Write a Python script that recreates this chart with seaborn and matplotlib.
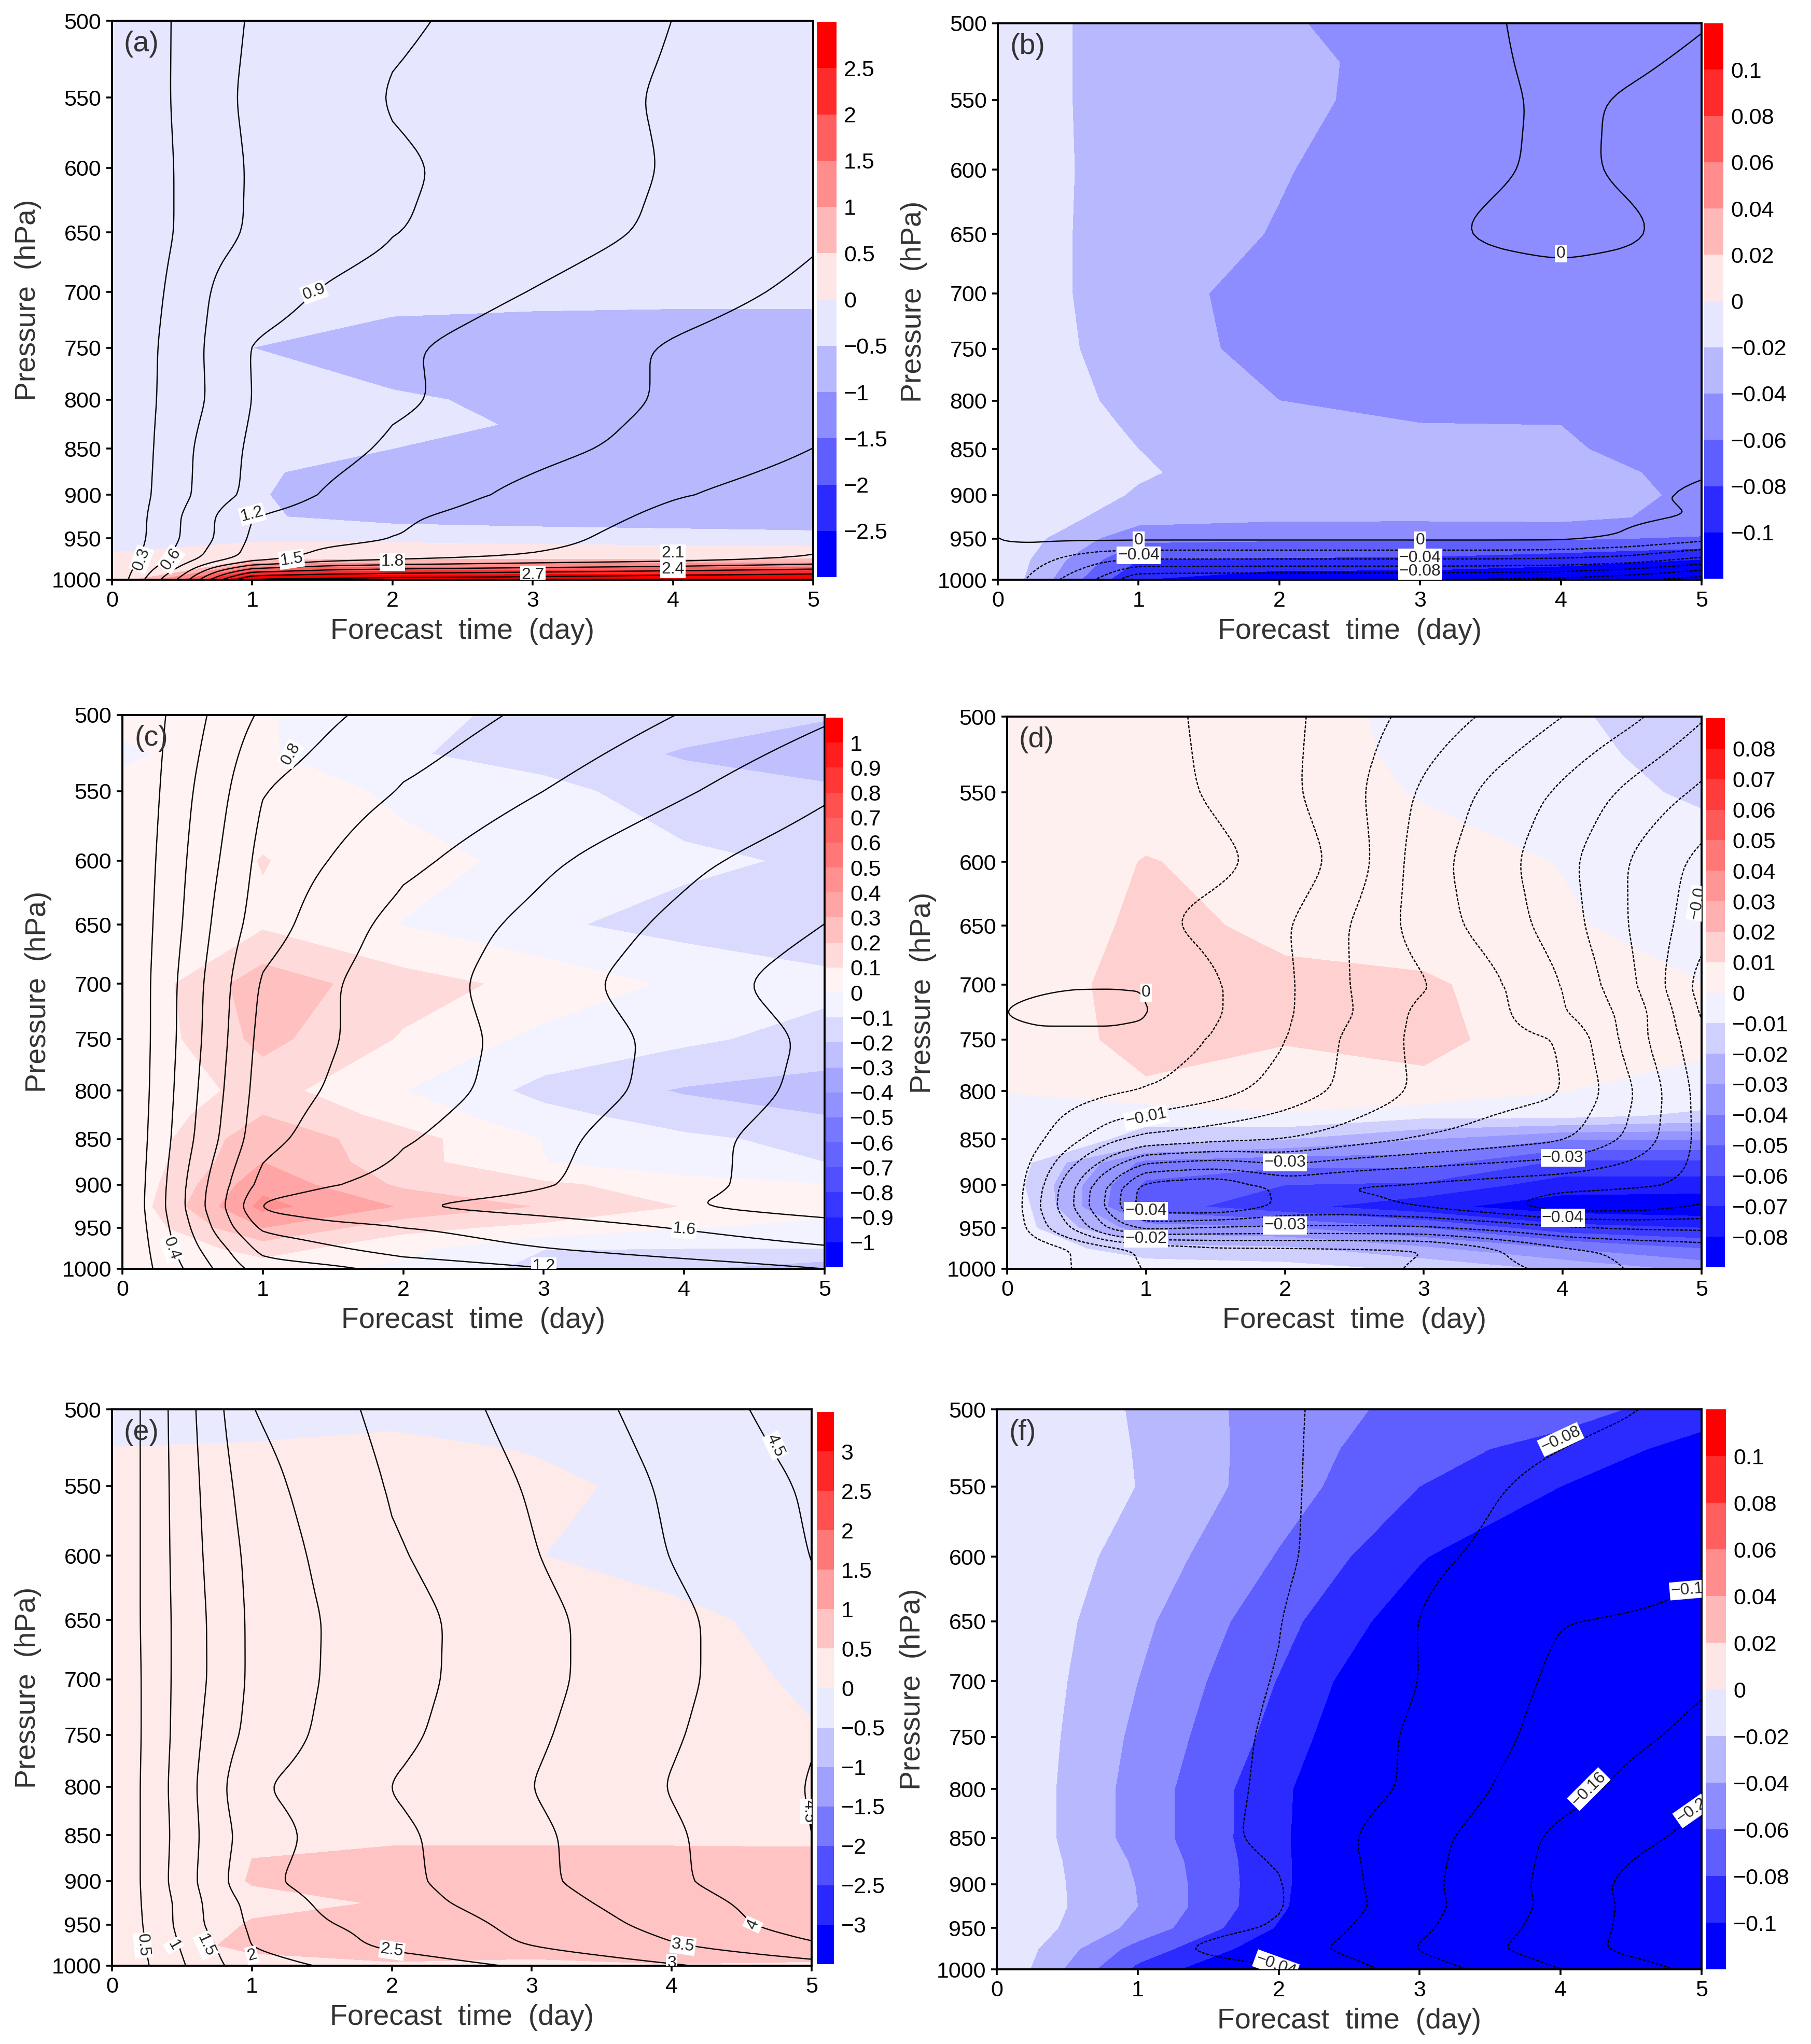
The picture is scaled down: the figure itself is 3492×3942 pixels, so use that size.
import numpy as np
import matplotlib
matplotlib.use("Agg")
import matplotlib.pyplot as plt
from matplotlib.cm import ScalarMappable
from matplotlib.colors import BoundaryNorm, ListedColormap
import seaborn as sns

sns.set_theme(style="ticks")
plt.rcParams["font.family"] = ["Liberation Sans", "DejaVu Sans"]
plt.rcParams["contour.negative_linestyle"] = "dashed"
plt.rcParams["lines.dashed_pattern"] = (2.4, 1.2)

# ---------------- axes values ----------------
DAYS = [0, 1, 2, 3, 4, 5]
PRESSURE_TICKS = [500, 550, 600, 650, 700, 750, 800, 850, 900, 950, 1000]
SHADE_P = [500, 525, 550, 600, 650, 700, 750, 800, 825, 850, 875, 900, 925, 950, 975, 1000]
LINE_P = [500, 550, 600, 650, 700, 750, 800, 850, 900, 925, 950, 975, 1000]
LINE_P_D = [500, 550, 600, 650, 700, 725, 750, 800, 850, 900, 925, 950, 975, 1000]

# ---------------- shaded fields (rows SHADE_P, columns DAYS) ----------------
SHADE_A = [
    [-.02, -.25, -.3, -.3, -.35, -.35], [-.02, -.25, -.3, -.3, -.35, -.35],
    [-.02, -.25, -.3, -.3, -.35, -.35], [-.02, -.25, -.3, -.3, -.35, -.35],
    [-.02, -.3, -.35, -.35, -.4, -.4], [-.02, -.35, -.44, -.45, -.45, -.45],
    [-.02, -.5, -.58, -.6, -.62, -.62], [-.02, -.4, -.48, -.53, -.6, -.65],
    [-.02, -.35, -.44, -.52, -.6, -.65], [-.02, -.4, -.5, -.6, -.7, -.7],
    [-.02, -.47, -.6, -.65, -.7, -.7], [-.02, -.45, -.85, -.85, -.85, -.85],
    [-.02, -.44, -.68, -.75, -.8, -.85], [-.02, -.1, -.12, -.2, -.25, -.3],
    [.01, .45, .5, .5, .5, .52], [.01, 3.1, 3.15, 3.2, 3.2, 3.2],
]
SHADE_B = [
    [-.002, -.036, -.039, -.044, -.05, -.055], [-.002, -.036, -.037, -.044, -.05, -.055],
    [-.002, -.036, -.038, -.043, -.05, -.055], [-.002, -.035, -.0395, -.044, -.05, -.055],
    [-.002, -.036, -.0405, -.046, -.05, -.055], [-.002, -.036, -.044, -.047, -.05, -.055],
    [-.002, -.033, -.045, -.047, -.05, -.055], [-.002, -.027, -.04, -.045, -.047, -.055],
    [-.002, -.023, -.033, -.0395, -.04, -.05], [-.002, -.02, -.03, -.034, -.038, -.048],
    [-.002, -.018, -.03, -.032, -.036, -.043], [-.002, -.022, -.03, -.032, -.035, -.042],
    [-.002, -.031, -.036, -.036, -.035, -.045], [-.002, -.055, -.057, -.058, -.058, -.062],
    [-.002, -.08, -.082, -.083, -.09, -.1], [-.002, -.1, -.115, -.115, -.12, -.125],
]
SHADE_C = [
    [.005, .01, -.08, -.12, -.15, -.19], [-.003, .012, -.09, -.14, -.21, -.26],
    [.005, .06, -.02, -.07, -.15, -.18], [.005, .104, .03, -.025, -.08, -.115],
    [.005, .085, -.003, -.085, -.135, -.17], [.005, .26, .14, .07, -.02, -.07],
    [.005, .23, .09, -.03, -.08, -.14], [.005, .14, .003, -.13, -.21, -.24],
    [.005, .2, .06, -.07, -.15, -.2], [.005, .27, .14, -.003, -.08, -.13],
    [.005, .3, .14, .002, -.07, -.1], [.005, .37, .18, .12, .05, .003],
    [.01, .43, .29, .19, .095, .04], [.005, .3, .13, .07, .005, -.03],
    [.005, .14, .03, -.098, -.1, -.1], [.005, .05, -.025, -.13, -.19, -.26],
]
SHADE_D = [
    [.002, .004, .003, -.002, -.008, -.017], [.002, .004, .003, -.0015, -.007, -.014],
    [.002, .005, .004, -.0006, -.006, -.0115], [.002, .0105, .006, .003, -.0003, -.005],
    [.003, .012, .0085, .005, .001, -.004], [.003, .0145, .0115, .0115, .004, .0002],
    [.003, .0135, .0105, .0115, .007, .002], [.0002, .0085, .006, .0085, .0002, -.0035],
    [-.002, -.0075, -.001, -.0075, -.007, -.012], [-.002, -.013, -.02, -.03, -.04, -.04],
    [-.003, -.043, -.047, -.046, -.062, -.062], [-.004, -.052, -.06, -.062, -.075, -.075],
    [-.001, -.055, -.067, -.077, -.086, -.088], [-.003, -.036, -.039, -.05, -.066, -.07],
    [-.002, -.016, -.018, -.028, -.04, -.05], [-.002, -.004, -.006, -.012, -.022, -.033],
]
SHADE_E = [
    [-.05, -.05, -.1, -.1, -.2, -.3], [.002, .01, .08, -.02, -.1, -.2],
    [.1, .25, .3, .09, -.1, -.2], [.1, .25, .25, .02, -.2, -.3],
    [.1, .2, .25, .2, .13, -.17], [.1, .2, .25, .2, .2, -.07],
    [.1, .2, .25, .2, .2, .03], [.1, .2, .25, .25, .25, .25],
    [.1, .25, .35, .35, .35, .35], [.15, .38, .45, .45, .45, .45],
    [.15, .5, .56, .56, .56, .55], [.1, .52, .7, .7, .7, .7],
    [.1, .42, .52, .7, .7, .7], [.1, .53, .7, .7, .7, .7],
    [.1, .63, .7, .7, .7, .7], [.1, .3, .45, .4, .48, .45],
]
SHADE_F = [
    [0, -.022, -.05, -.0656, -.072, -.09], [0, -.021, -.05, -.073, -.087, -.108],
    [0, -.0204, -.051, -.08, -.1, -.118], [0, -.0278, -.0614, -.098, -.13, -.145],
    [0, -.035, -.073, -.114, -.14, -.16], [0, -.04, -.081, -.13, -.16, -.17],
    [0, -.0444, -.087, -.14, -.17, -.185], [0, -.0476, -.095, -.145, -.175, -.195],
    [0, -.0476, -.095, -.148, -.178, -.198], [0, -.0476, -.0955, -.15, -.18, -.2],
    [0, -.043, -.095, -.15, -.183, -.203], [0, -.0408, -.095, -.15, -.185, -.205],
    [0, -.04, -.096, -.152, -.187, -.207], [0, -.046, -.102, -.16, -.19, -.21],
    [0, -.068, -.115, -.17, -.195, -.215], [0, -.085, -.135, -.18, -.2, -.22],
]

# ---------------- contoured fields ----------------
LINE_T_A = [0, .25, .5, .75, 1, 1.5, 2, 3, 4, 5]
LINE_A = [
    [0, .17, .36, .51, .625, .74, .85, 1.03, 1.2, 1.4],
    [0, .18, .36, .54, .65, .79, .92, 1.09, 1.23, 1.42],
    [0, .17, .34, .51, .625, .74, .85, 1.04, 1.22, 1.42],
    [0, .17, .34, .52, .63, .76, .88, 1.07, 1.25, 1.46],
    [0, .2, .41, .65, .76, .92, 1.02, 1.21, 1.38, 1.56],
    [0, .23, .46, .69, .92, 1.03, 1.16, 1.35, 1.53, 1.67],
    [0, .24, .46, .67, .91, 1.02, 1.15, 1.35, 1.53, 1.68],
    [0, .25, .52, .77, .95, 1.1, 1.24, 1.42, 1.59, 1.8],
    [0, .27, .53, .79, .97, 1.22, 1.35, 1.57, 1.78, 1.95],
    [0, .3, .61, .92, 1.2, 1.35, 1.46, 1.63, 1.87, 2.05],
    [0, .31, .62, .93, 1.25, 1.4, 1.49, 1.7, 1.95, 2.08],
    [0, .37, .73, 1.06, 1.32, 1.62, 1.72, 1.85, 1.93, 2.1],
    [0, .65, 1.3, 2.3, 3.05, 3.1, 3.15, 3.2, 3.3, 3.35],
]
LINE_T_B = [0, .25, .5, .75, 1, 2, 3, 3.5, 4, 4.5, 5]
LINE_B = [
    [.003, .003, .003, .003, .003, .003, .002, .0006, -.002, -.002, -.0003],
    [.003, .003, .003, .003, .003, .003, .002, .0008, -.0008, .0005, .002],
    [.003, .003, .003, .003, .003, .003, .002, .0007, -.001, .0008, .002],
    [.003, .003, .003, .003, .003, .003, .0012, -.0008, -.0022, -.0008, .002],
    [.003, .003, .003, .003, .003, .003, .003, .003, .003, .003, .003],
    [.003, .003, .003, .003, .003, .003, .003, .003, .003, .003, .003],
    [.003, .003, .003, .003, .003, .003, .003, .003, .003, .003, .003],
    [.003, .003, .003, .003, .003, .003, .003, .003, .003, .003, .002],
    [.003, .003, .003, .003, .003, .003, .003, .003, .003, .001, -.001],
    [.003, .003, .003, .003, .003, .003, .003, .003, .003, .002, -.0005],
    [-.0003, .003, .004, .005, .005, .005, .005, .005, .005, -.002, -.012],
    [-.001, -.012, -.025, -.036, -.04, -.04, -.04, -.04, -.042, -.048, -.065],
    [-.001, -.025, -.045, -.065, -.098, -.1, -.1, -.102, -.105, -.115, -.13],
]
LINE_T_C = [0, .25, .5, .75, 1, 1.5, 2, 3, 4, 5]
LINE_C = [
    [0, .16, .33, .5, .63, .78, .875, 1.05, 1.21, 1.37],
    [0, .185, .4, .59, .8, .91, 1.01, 1.2, 1.38, 1.57],
    [0, .21, .44, .65, .87, 1.01, 1.15, 1.37, 1.56, 1.72],
    [0, .23, .47, .72, .9, 1.12, 1.27, 1.46, 1.65, 1.8],
    [0, .25, .52, .78, 1.03, 1.19, 1.3, 1.52, 1.72, 1.9],
    [0, .25, .53, .8, 1.07, 1.19, 1.29, 1.48, 1.66, 1.84],
    [0, .26, .56, .83, 1.1, 1.22, 1.31, 1.49, 1.67, 1.86],
    [0, .28, .59, .87, 1.14, 1.29, 1.38, 1.55, 1.74, 1.91],
    [0, .31, .67, .99, 1.27, 1.39, 1.45, 1.58, 1.75, 1.9],
    [0, .32, .68, 1.03, 1.44, 1.56, 1.6, 1.68, 1.79, 1.9],
    [0, .29, .62, .95, 1.24, 1.33, 1.39, 1.5, 1.61, 1.71],
    [0, .26, .55, .8, 1.07, 1.18, 1.29, 1.4, 1.5, 1.58],
    [0, .23, .46, .7, .9, .96, 1.07, 1.19, 1.3, 1.4],
]
LINE_T_D = [0, .25, .5, .75, 1, 1.5, 2, 2.5, 3, 3.5, 4, 4.5, 5]
LINE_D = [
    [-.0005, -.001, -.002, -.003, -.0035, -.006, -.0088, -.0127, -.017, -.021, -.025, -.029, -.0345],
    [-.0005, -.001, -.002, -.0027, -.0035, -.0055, -.0088, -.014, -.021, -.0265, -.031, -.0365, -.041],
    [-.0005, -.001, -.002, -.0027, -.0032, -.0038, -.0065, -.0125, -.023, -.028, -.0335, -.0405, -.0465],
    [-.0005, -.001, -.002, -.003, -.004, -.0065, -.0095, -.0155, -.0225, -.027, -.0325, -.0405, -.048],
    [-.0004, -.0003, -.0002, -.0002, -.0002, -.0045, -.009, -.0155, -.0195, -.024, -.03, -.039, -.052],
    [.00005, .0005, .001, .0012, .0005, -.0045, -.0092, -.015, -.0215, -.0235, -.0295, -.037, -.0505],
    [-.0005, -.0005, -.001, -.0012, -.0015, -.0055, -.0097, -.0165, -.0215, -.0235, -.025, -.0375, -.0485],
    [-.001, -.002, -.003, -.004, -.005, -.008, -.012, -.0165, -.021, -.023, -.0245, -.0345, -.047],
    [-.001, -.0045, -.009, -.0135, -.016, -.018, -.0195, -.0225, -.025, -.027, -.029, -.036, -.0465],
    [-.001, -.0095, -.0205, -.0315, -.0425, -.0445, -.0385, -.0405, -.0415, -.0425, -.0435, -.0447, -.046],
    [-.001, -.0105, -.021, -.0325, -.0435, -.0445, -.039, -.0385, -.0405, -.0435, -.048, -.0475, -.045],
    [-.001, -.0085, -.0165, -.0265, -.0315, -.0295, -.029, -.029, -.0293, -.0315, -.034, -.0355, -.036],
    [-.001, -.0028, -.0055, -.0083, -.0112, -.0138, -.014, -.0143, -.0147, -.0195, -.0245, -.0262, -.0275],
    [-.001, -.0027, -.0054, -.0075, -.0104, -.012, -.0128, -.0138, -.0155, -.0185, -.0215, -.0255, -.0285],
]
LINE_T_E = [0, .25, .5, .75, 1, 1.5, 2, 3, 4, 5]
LINE_E = [
    [0, .62, 1.25, 1.88, 2.5, 2.83, 3.14, 3.68, 4.2, 4.74],
    [0, .62, 1.22, 1.77, 2.27, 2.72, 3.03, 3.54, 4.07, 4.56],
    [0, .62, 1.2, 1.7, 2.13, 2.6, 2.93, 3.47, 4.02, 4.51],
    [0, .62, 1.17, 1.64, 2.09, 2.51, 2.8, 3.35, 3.89, 4.42],
    [0, .6, 1.18, 1.63, 2.09, 2.52, 2.81, 3.35, 3.89, 4.42],
    [0, .6, 1.2, 1.74, 2.14, 2.58, 2.87, 3.42, 3.95, 4.47],
    [0, .62, 1.25, 1.85, 2.44, 2.72, 3.0, 3.5, 4.03, 4.53],
    [0, .62, 1.2, 1.8, 2.22, 2.63, 2.89, 3.4, 3.93, 4.5],
    [0, .62, 1.25, 1.84, 2.37, 2.68, 2.87, 3.39, 3.92, 4.45],
    [0, .6, 1.15, 1.75, 2.14, 2.57, 2.8, 3.28, 3.78, 4.3],
    [0, .57, 1.15, 1.7, 2.08, 2.47, 2.63, 3.15, 3.66, 4.25],
    [0, .52, 1.05, 1.52, 2.02, 2.33, 2.6, 3.02, 3.46, 3.93],
    [0, .47, .95, 1.42, 1.78, 2.03, 2.21, 2.58, 2.95, 3.3],
]
LINE_T_F = [0, 1, 2, 2.5, 3, 3.5, 4, 4.5, 5]
LINE_F = [
    [0, -.02, -.037, -.045, -.053, -.061, -.069, -.078, -.095],
    [0, -.02, -.036, -.048, -.063, -.077, -.09, -.1, -.11],
    [0, -.02, -.035, -.052, -.073, -.085, -.097, -.108, -.117],
    [0, -.022, -.039, -.059, -.081, -.1, -.12, -.122, -.125],
    [0, -.024, -.041, -.06, -.08, -.105, -.127, -.14, -.155],
    [0, -.025, -.043, -.066, -.086, -.11, -.135, -.152, -.17],
    [0, -.025, -.044, -.066, -.087, -.12, -.145, -.17, -.195],
    [0, -.026, -.045, -.077, -.107, -.135, -.17, -.19, -.21],
    [0, -.02, -.037, -.072, -.11, -.14, -.175, -.21, -.235],
    [0, -.02, -.037, -.07, -.107, -.14, -.172, -.208, -.235],
    [0, -.022, -.042, -.08, -.113, -.145, -.178, -.208, -.23],
    [0, -.027, -.063, -.089, -.123, -.155, -.182, -.21, -.225],
    [0, -.02, -.034, -.066, -.1, -.13, -.16, -.185, -.21],
]

# ---------------- class limits ----------------
BOUNDS_A = [-2.5, -2, -1.5, -1, -.5, 0, .5, 1, 1.5, 2, 2.5]
BOUNDS_B = [-.1, -.08, -.06, -.04, -.02, 0, .02, .04, .06, .08, .1]
BOUNDS_C = [-1, -.9, -.8, -.7, -.6, -.5, -.4, -.3, -.2, -.1, 0, .1, .2, .3, .4, .5, .6, .7, .8, .9, 1]
BOUNDS_D = [-.08, -.07, -.06, -.05, -.04, -.03, -.02, -.01, 0, .01, .02, .03, .04, .05, .06, .07, .08]
BOUNDS_E = [-3, -2.5, -2, -1.5, -1, -.5, 0, .5, 1, 1.5, 2, 2.5, 3]
LINES_A = [.3, .6, .9, 1.2, 1.5, 1.8, 2.1, 2.4, 2.7, 3.0]
LINES_B = [-.12, -.1, -.08, -.06, -.04, -.02, 0]
LINES_C = [.2, .4, .6, .8, 1.0, 1.2, 1.4, 1.6, 1.8]
LINES_D = [-.05, -.045, -.04, -.035, -.03, -.025, -.02, -.015, -.01, -.005, 0]
LINES_E = [.5, 1, 1.5, 2, 2.5, 3, 3.5, 4, 4.5]
LINES_F = [-.2, -.16, -.12, -.08, -.04]

# paler-to-full channel value of each class, from zero outwards
TINT_6 = [230, 184, 141, 95, 43, 0]
TINT_7 = [234, 195, 160, 120, 80, 40, 0]
TINT_9 = [240, 208, 176, 150, 120, 90, 60, 30, 0]
TINT_11 = [243, 218, 192, 165, 145, 120, 100, 80, 55, 30, 0]

LABELS_A = [("0.3", .21, 975, 70), ("0.6", .42, 975, 55), ("0.9", 1.44, 700, 20), ("1.2", 1, 922, 15),
            ("1.5", 1.28, 975, 8), ("1.8", 2, 978, 0), ("2.1", 4, 968, 0), ("2.4", 4, 987, 0), ("2.7", 3, 994, 0)]
LABELS_B = [("0", 1, 952, 0), ("0", 3, 952, 0), ("0", 4, 666, 0), ("−0.04", 1, 970, 0),
            ("−0.04", 3, 973, 0), ("−0.08", 3, 990, 0)]
LABELS_C = [("0.4", .35, 975, -70), ("0.8", 1.2, 525, 60), ("1.2", 3, 997, 0), ("1.6", 4, 952, -5)]
LABELS_D = [("0", 1, 707, 0), ("−0.01", 1, 827, 12), ("−0.03", 2, 875, 0), ("−0.03", 4, 870, 0),
            ("−0.04", 1, 930, 0), ("−0.04", 4, 938, 0), ("−0.03", 2, 947, 0), ("−0.02", 1, 963, 0),
            ("−0.0", 4.97, 632, 80)]
LABELS_E = [("0.5", .22, 975, -85), ("1", .44, 975, -60), ("1.5", .67, 975, -65), ("2", 1, 987, 15),
            ("2.5", 2, 981, -8), ("3", 4, 997, 0), ("3.5", 4.08, 975, -8), ("4", 4.58, 950, 65),
            ("4.5", 4.74, 523, -65), ("4.5", 4.98, 825, -90)]
LABELS_F = [("−0.08", 4, 519, 25), ("−0.12", 4.93, 625, 5), ("−0.16", 4.2, 800, 45),
            ("−0.2", 4.93, 822, 35), ("−0.04", 1.98, 995, -20)]

# name, shade, class limits, tints, line times, line levels, line field, contour levels, labels, box px, colorbar px
PANELS = [
    ("(a)", SHADE_A, BOUNDS_A, TINT_6, LINE_T_A, LINE_P, LINE_A, LINES_A, LABELS_A, (216, 1568, 40, 1118), (1575, 1613, 42, 1113)),
    ("(b)", SHADE_B, BOUNDS_B, TINT_6, LINE_T_B, LINE_P, LINE_B, LINES_B, LABELS_B, (1924, 3281, 45, 1118), (3286, 3323, 45, 1116)),
    ("(c)", SHADE_C, BOUNDS_C, TINT_11, LINE_T_C, LINE_P, LINE_C, LINES_C, LABELS_C, (236, 1590, 1379, 2447), (1593, 1625, 1384, 2444)),
    ("(d)", SHADE_D, BOUNDS_D, TINT_9, LINE_T_D, LINE_P_D, LINE_D, LINES_D, LABELS_D, (1942, 3281, 1382, 2447), (3290, 3326, 1385, 2444)),
    ("(e)", SHADE_E, BOUNDS_E, TINT_7, LINE_T_E, LINE_P, LINE_E, LINES_E, LABELS_E, (216, 1565, 2718, 3791), (1575, 1608, 2723, 3788)),
    ("(f)", SHADE_F, BOUNDS_B, TINT_6, LINE_T_F, LINE_P, LINE_F, LINES_F, LABELS_F, (1922, 3281, 2718, 3798), (3290, 3328, 2718, 3798)),
]

W, H = 3492, 3942
fig = plt.figure(figsize=(W / 100, H / 100), dpi=100, facecolor="white")


def rect(box):
    x0, x1, y0, y1 = box
    return [x0 / W, 1 - y1 / H, (x1 - x0) / W, (y1 - y0) / H]


def class_colours(tints):
    blue = [(t / 255, t / 255, 1.0) for t in tints]
    red = [(1.0, t / 255, t / 255) for t in tints]
    return blue[::-1] + red


def bound_text(v):
    return f"{v:g}".replace("-", "−")


def rounded(times, levels, field, sub=12, half=4):
    """Round the contour drawing as GrADS does: refine each grid cell, then soften with a short triangular window."""
    field = np.asarray(field, float)
    idx_t = np.arange(len(times))
    idx_p = np.arange(len(levels))
    fine_t = np.linspace(0, len(times) - 1, (len(times) - 1) * sub + 1)
    fine_p = np.linspace(0, len(levels) - 1, (len(levels) - 1) * sub + 1)
    by_time = np.array([np.interp(fine_t, idx_t, row) for row in field])
    full = np.array([np.interp(fine_p, idx_p, col) for col in by_time.T]).T
    kernel = np.bartlett(2 * half + 3)[1:-1]
    kernel = kernel / kernel.sum()
    padded = np.pad(full, half, mode="reflect", reflect_type="odd")
    padded = np.apply_along_axis(lambda s: np.convolve(s, kernel, mode="same"), 0, padded)
    padded = np.apply_along_axis(lambda s: np.convolve(s, kernel, mode="same"), 1, padded)
    smooth = padded[half:-half, half:-half]
    return np.interp(fine_t, idx_t, times), np.exp(np.interp(fine_p, idx_p, np.log(levels))), smooth


for name, shade, bounds, tints, lt, lp, lines, lvls, labels, box, cbox in PANELS:
    ax = fig.add_axes(rect(box))
    colours = sns.color_palette(class_colours(tints))
    fill_levels = [-1e3] + list(bounds) + [1e3]
    ax.contourf(DAYS, SHADE_P, np.array(shade), levels=fill_levels, colors=colours)
    tf, pf, zf = rounded(lt, lp, lines)
    ax.contour(tf, pf, zf, levels=lvls, colors="black", linewidths=1.7)
    ax.set_yscale("log")
    ax.set_ylim(1000, 500)
    ax.set_xlim(0, 5)
    ax.minorticks_off()
    ax.set_yticks(PRESSURE_TICKS)
    ax.set_yticklabels([str(p) for p in PRESSURE_TICKS])
    ax.set_xticks(DAYS)
    ax.set_xticklabels([str(d) for d in DAYS])
    ax.tick_params(axis="both", which="both", direction="out", length=8, width=2.6,
                   labelsize=31, pad=7, color="black", labelcolor="black")
    for spine in ax.spines.values():
        spine.set_linewidth(2.8)
        spine.set_color("black")
    ax.set_xlabel("Forecast  time  (day)", fontsize=40, va="center", color="#333333")
    ax.set_ylabel("Pressure  (hPa)", fontsize=40, va="center", color="#333333")
    hgt = box[3] - box[2]
    ax.xaxis.set_label_coords(0.5, -100 / hgt)
    ax.yaxis.set_label_coords(-162 / (box[1] - box[0]), 0.5)
    ax.text(0.017, 0.958, name, transform=ax.transAxes, fontsize=40, ha="left", va="center", color="#333333")
    for text, t, p, rot in labels:
        ax.text(t, p, text, fontsize=23, rotation=rot, rotation_mode="anchor", ha="center", va="center",
                clip_on=True, bbox=dict(facecolor="white", edgecolor="none", pad=1.5), zorder=5)

    cax = fig.add_axes(rect(cbox))
    n = len(colours)
    mappable = ScalarMappable(norm=BoundaryNorm(np.arange(n + 1), n), cmap=ListedColormap(colours))
    cb = fig.colorbar(mappable, cax=cax, ticks=np.arange(1, n), spacing="uniform", drawedges=False)
    cb.set_ticklabels([bound_text(b) for b in bounds])
    cb.outline.set_visible(False)
    cax.tick_params(length=0, labelsize=31, pad=10, labelcolor="black")
    cax.minorticks_off()

fig.savefig("out.png", dpi=100, facecolor="white")
